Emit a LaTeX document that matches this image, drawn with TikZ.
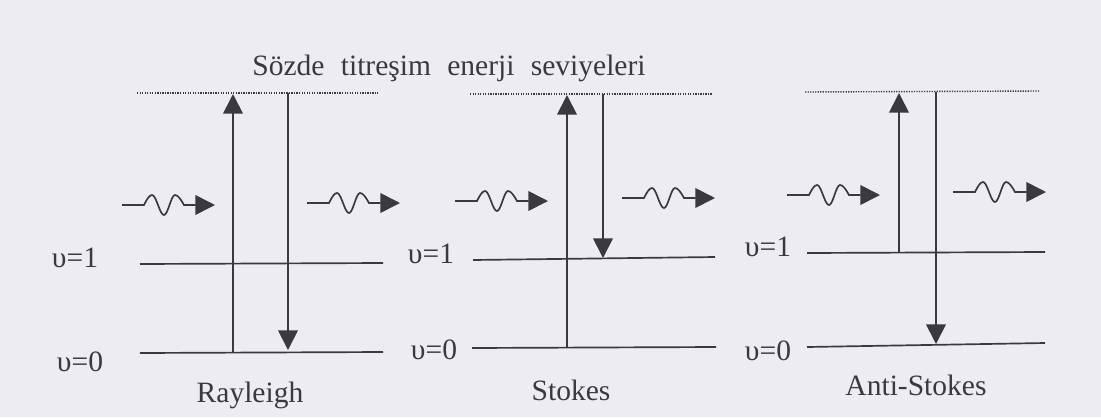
\documentclass[tikz,border=0pt]{standalone}
\usepackage{fontspec}
\setmainfont{Liberation Serif}
\usepackage{xcolor}
\usepackage{tikz}
\usetikzlibrary{positioning,arrows.meta}
\definecolor{paper}{RGB}{236,236,241}
\definecolor{ink}{RGB}{58,58,62}

\begin{document}
\begin{tikzpicture}[
    x=0.025cm, y=-0.025cm,
    energy/.style={draw=ink, line width=1.2pt},
    virtual/.style={draw=ink, line width=1pt, dash pattern=on 0.9pt off 0.9pt},
    transition/.style={draw=ink, line width=1.3pt, -{Triangle[length=14pt, width=14pt]}},
    photonline/.style={draw=ink, line width=1.2pt, -{Triangle[length=14pt, width=14pt]}},
    lvltext/.style={text=ink, font=\fontsize{21}{24}\selectfont, inner sep=0pt},
    photon/.pic={\draw[photonline] (0,0) -- (22,0) sin (30,-10) cos (36,0) sin (42,10) cos (47.5,0) sin (53,-10) cos (62,0) -- (93,0);}
]
    % Background
    \fill[paper] (0,0) rectangle (1101,417);

    % Title
    \node[lvltext, anchor=base] (title) at (449,75) {Sözde\hspace{0.55em}titreşim\hspace{0.55em}enerji\hspace{0.55em}seviyeleri};

    % Rayleigh
    \coordinate (rv-l) at (137,93);  \coordinate (rv-r) at (378,93);
    \coordinate (r1-l) at (140,264); \coordinate (r1-r) at (383,263);
    \coordinate (r0-l) at (140,353); \coordinate (r0-r) at (383,352);
    \coordinate (r-a) at (233,353);  \coordinate (r-b) at (233,94);
    \coordinate (r-c) at (288,93);   \coordinate (r-d) at (288,350);
    \draw[virtual] (rv-l) -- (rv-r);
    \draw[energy] (r1-l) -- (r1-r);
    \draw[energy] (r0-l) -- (r0-r);
    \draw[transition] (r-a) -- (r-b);
    \draw[transition] (r-c) -- (r-d);
    \pic at (122,205) {photon};
    \pic at (307,203) {photon};
    \node[lvltext] (r1t) at (75,258) {υ=1};
    \node[lvltext] (r0t) at (80,362) {υ=0};
    \node[lvltext, anchor=base] (rname) at (250,402) {Rayleigh};

    % Stokes
    \coordinate (sv-l) at (470,94);  \coordinate (sv-r) at (712,94);
    \coordinate (s1-l) at (473,260); \coordinate (s1-r) at (715,257);
    \coordinate (s0-l) at (472,348); \coordinate (s0-r) at (716,347);
    \coordinate (s-a) at (567,348);  \coordinate (s-b) at (567,95);
    \coordinate (s-c) at (603,94);   \coordinate (s-d) at (603,258);
    \draw[virtual] (sv-l) -- (sv-r);
    \draw[energy] (s1-l) -- (s1-r);
    \draw[energy] (s0-l) -- (s0-r);
    \draw[transition] (s-a) -- (s-b);
    \draw[transition] (s-c) -- (s-d);
    \pic at (455,201) {photon};
    \pic at (622,198) {photon};
    \node[lvltext] (s1t) at (431,254) {υ=1};
    \node[lvltext] (s0t) at (434,350) {υ=0};
    \node[lvltext, anchor=base] (sname) at (571,400) {Stokes};

    % Anti-Stokes
    \coordinate (av-l) at (805,92);  \coordinate (av-r) at (1040,91);
    \coordinate (a1-l) at (807,253); \coordinate (a1-r) at (1045,252);
    \coordinate (a0-l) at (807,347); \coordinate (a0-r) at (1045,343);
    \coordinate (a-a) at (899,253);  \coordinate (a-b) at (899,93);
    \coordinate (a-c) at (936,92);   \coordinate (a-d) at (936,344);
    \draw[virtual] (av-l) -- (av-r);
    \draw[energy] (a1-l) -- (a1-r);
    \draw[energy] (a0-l) -- (a0-r);
    \draw[transition] (a-a) -- (a-b);
    \draw[transition] (a-c) -- (a-d);
    \pic at (787,195) {photon};
    \pic at (953,192) {photon};
    \node[lvltext] (a1t) at (768,247) {υ=1};
    \node[lvltext] (a0t) at (768,351) {υ=0};
    \node[lvltext, anchor=base] (aname) at (916,395) {Anti-Stokes};
\end{tikzpicture}
\end{document}
